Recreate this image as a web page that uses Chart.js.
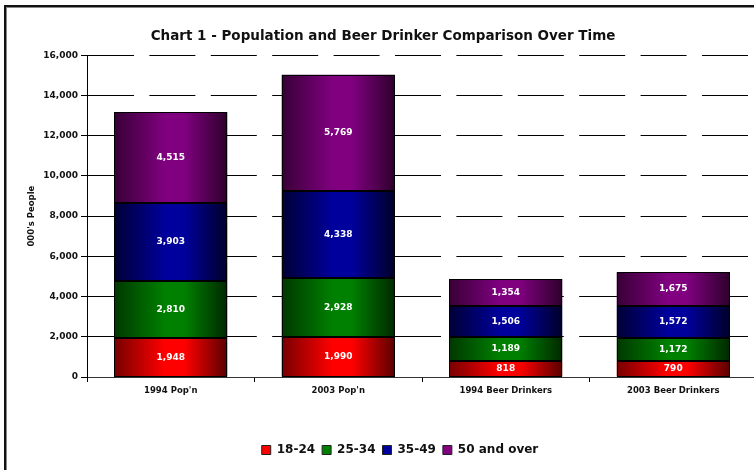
<!DOCTYPE html>
<html>
<head>
<meta charset="utf-8">
<script src="https://cdn.jsdelivr.net/npm/chart.js@4"></script>
<style>
  html, body { margin: 0; padding: 0; background: #fff; overflow: hidden; }
  #wrap { position: relative; width: 754px; height: 470px; overflow: hidden; }
  #frame { position: absolute; left: 4px; top: 5px; width: 820px; height: 520px;
           border: 2px solid #111; box-shadow: inset 1px 1px 0 #888; }
  #c { position: absolute; left: 0; top: 0; }
</style>
</head>
<body>
<div id="wrap">
  <div id="frame"></div>
  <canvas id="c" width="781" height="470"></canvas>
</div>
<script>
// Chart 1 - population vs beer drinkers, stacked by age group
const categories = ["1994 Pop'n", "2003 Pop'n", "1994 Beer Drinkers", "2003 Beer Drinkers"];
const ageGroups = ["18-24", "25-34", "35-49", "50 and over"];
const age18to24 = [1948, 1990, 818, 790];
const age25to34 = [2810, 2928, 1189, 1172];
const age35to49 = [3903, 4338, 1506, 1572];
const age50plus = [4515, 5769, 1354, 1675];
const yMin = 0, yMax = 16000, yStep = 2000;

// bright centre / dark edge colours for each series
const brightCols = ["#ff0000", "#008000", "#00009c", "#800080"];
const leftCols = ["#780000", "#003800", "#000036", "#380036"];
const rightCols = ["#5a0000", "#002800", "#00002a", "#2e002c"];

const FONT = "'DejaVu Sans', sans-serif";
const BAR_PCT = 0.675;

const fmt = v => Number(v).toLocaleString("en-US");

const gradientFill = (i) => (c) => {
  const chart = c.chart;
  const xs = chart.scales && chart.scales.x;
  if (!xs || c.type !== "data" || !chart.chartArea) return brightCols[i];
  const cx = xs.getPixelForValue(c.dataIndex);
  const w = (xs.width / categories.length) * BAR_PCT;
  const g = chart.ctx.createLinearGradient(cx - w / 2, 0, cx + w / 2, 0);
  g.addColorStop(0, leftCols[i]);
  g.addColorStop(0.45, brightCols[i]);
  g.addColorStop(0.62, brightCols[i]);
  g.addColorStop(1, rightCols[i]);
  return g;
};

const seriesData = [age18to24, age25to34, age35to49, age50plus];

// crisp black outlines + white value labels on each segment
const barLabels = {
  id: "barLabels",
  afterDatasetsDraw(chart) {
    const ctx = chart.ctx;
    ctx.save();
    ctx.strokeStyle = "#000";
    ctx.lineWidth = 1;
    chart.data.datasets.forEach((ds, i) => {
      chart.getDatasetMeta(i).data.forEach(bar => {
        const l = Math.round(bar.x - bar.width / 2) + 0.5;
        const r = Math.round(bar.x + bar.width / 2) - 0.5;
        const t = Math.round(bar.y) + 0.5;
        const b = Math.round(bar.base) - 0.5;
        ctx.strokeRect(l, t, r - l, b - t);
      });
    });
    ctx.fillStyle = "#fff";
    ctx.font = "bold 9px " + FONT;
    ctx.textAlign = "center";
    ctx.textBaseline = "middle";
    chart.data.datasets.forEach((ds, i) => {
      chart.getDatasetMeta(i).data.forEach((bar, j) => {
        ctx.fillText(fmt(ds.data[j]), bar.x, (bar.y + bar.base) / 2);
      });
    });
    ctx.restore();
  }
};

// nudge legend to the right like the original
const legendShift = {
  id: "legendShift",
  afterLayout(chart) {
    const lg = chart.legend;
    if (lg) { lg.left += 17; lg.right += 17; }
  }
};

new Chart(document.getElementById("c"), {
  type: "bar",
  data: {
    labels: categories,
    datasets: ageGroups.map((name, i) => ({
      label: name,
      data: seriesData[i],
      backgroundColor: gradientFill(i),
      borderWidth: 0,
      inflateAmount: 0,
      barPercentage: BAR_PCT,
      categoryPercentage: 1,
    })),
  },
  options: {
    responsive: false,
    animation: false,
    layout: { padding: { left: 9, right: 24, top: 0, bottom: 4 } },
    scales: {
      x: {
        stacked: true,
        grid: { display: true, drawOnChartArea: false, drawTicks: true, tickLength: 5, color: "#000", offset: true },
        border: { display: true, color: "#333", width: 1 },
        ticks: { color: "#111", padding: 4, font: { family: FONT, size: 8.5, weight: "bold" }, maxRotation: 0 },
        afterFit: s => { s.height = 60; },
      },
      y: {
        stacked: true,
        min: yMin, max: yMax,
        grid: { color: "#000", lineWidth: 1, tickLength: 6 },
        border: { display: true, color: "#000", width: 1, dash: [46, 15.4] },
        ticks: {
          stepSize: yStep, padding: 3, color: "#111",
          font: { family: FONT, size: 9, weight: "bold" },
          callback: v => fmt(v),
        },
        title: {
          display: true, text: "000's People", color: "#111",
          font: { family: FONT, size: 8.5, weight: "bold" },
          padding: { top: 18, bottom: 0 },
        },
        afterFit: s => { s.width = 87 - 9; },
      },
    },
    plugins: {
      title: {
        display: true,
        text: "Chart 1 - Population and Beer Drinker Comparison Over Time",
        color: "#111",
        font: { family: FONT, size: 13.5, weight: "bold" },
        padding: { top: 28, bottom: 11 },
      },
      legend: {
        position: "bottom",
        labels: {
          boxWidth: 9, boxHeight: 9, padding: 7, color: "#111",
          font: { family: FONT, size: 12, weight: "bold" },
          generateLabels: chart => Chart.defaults.plugins.legend.labels.generateLabels(chart)
            .map((item, i) => Object.assign(item, { fillStyle: brightCols[i], strokeStyle: "#222", lineWidth: 1 })),
        },
      },
      tooltip: { enabled: false },
    },
  },
  plugins: [barLabels, legendShift],
});
</script>
</body>
</html>
